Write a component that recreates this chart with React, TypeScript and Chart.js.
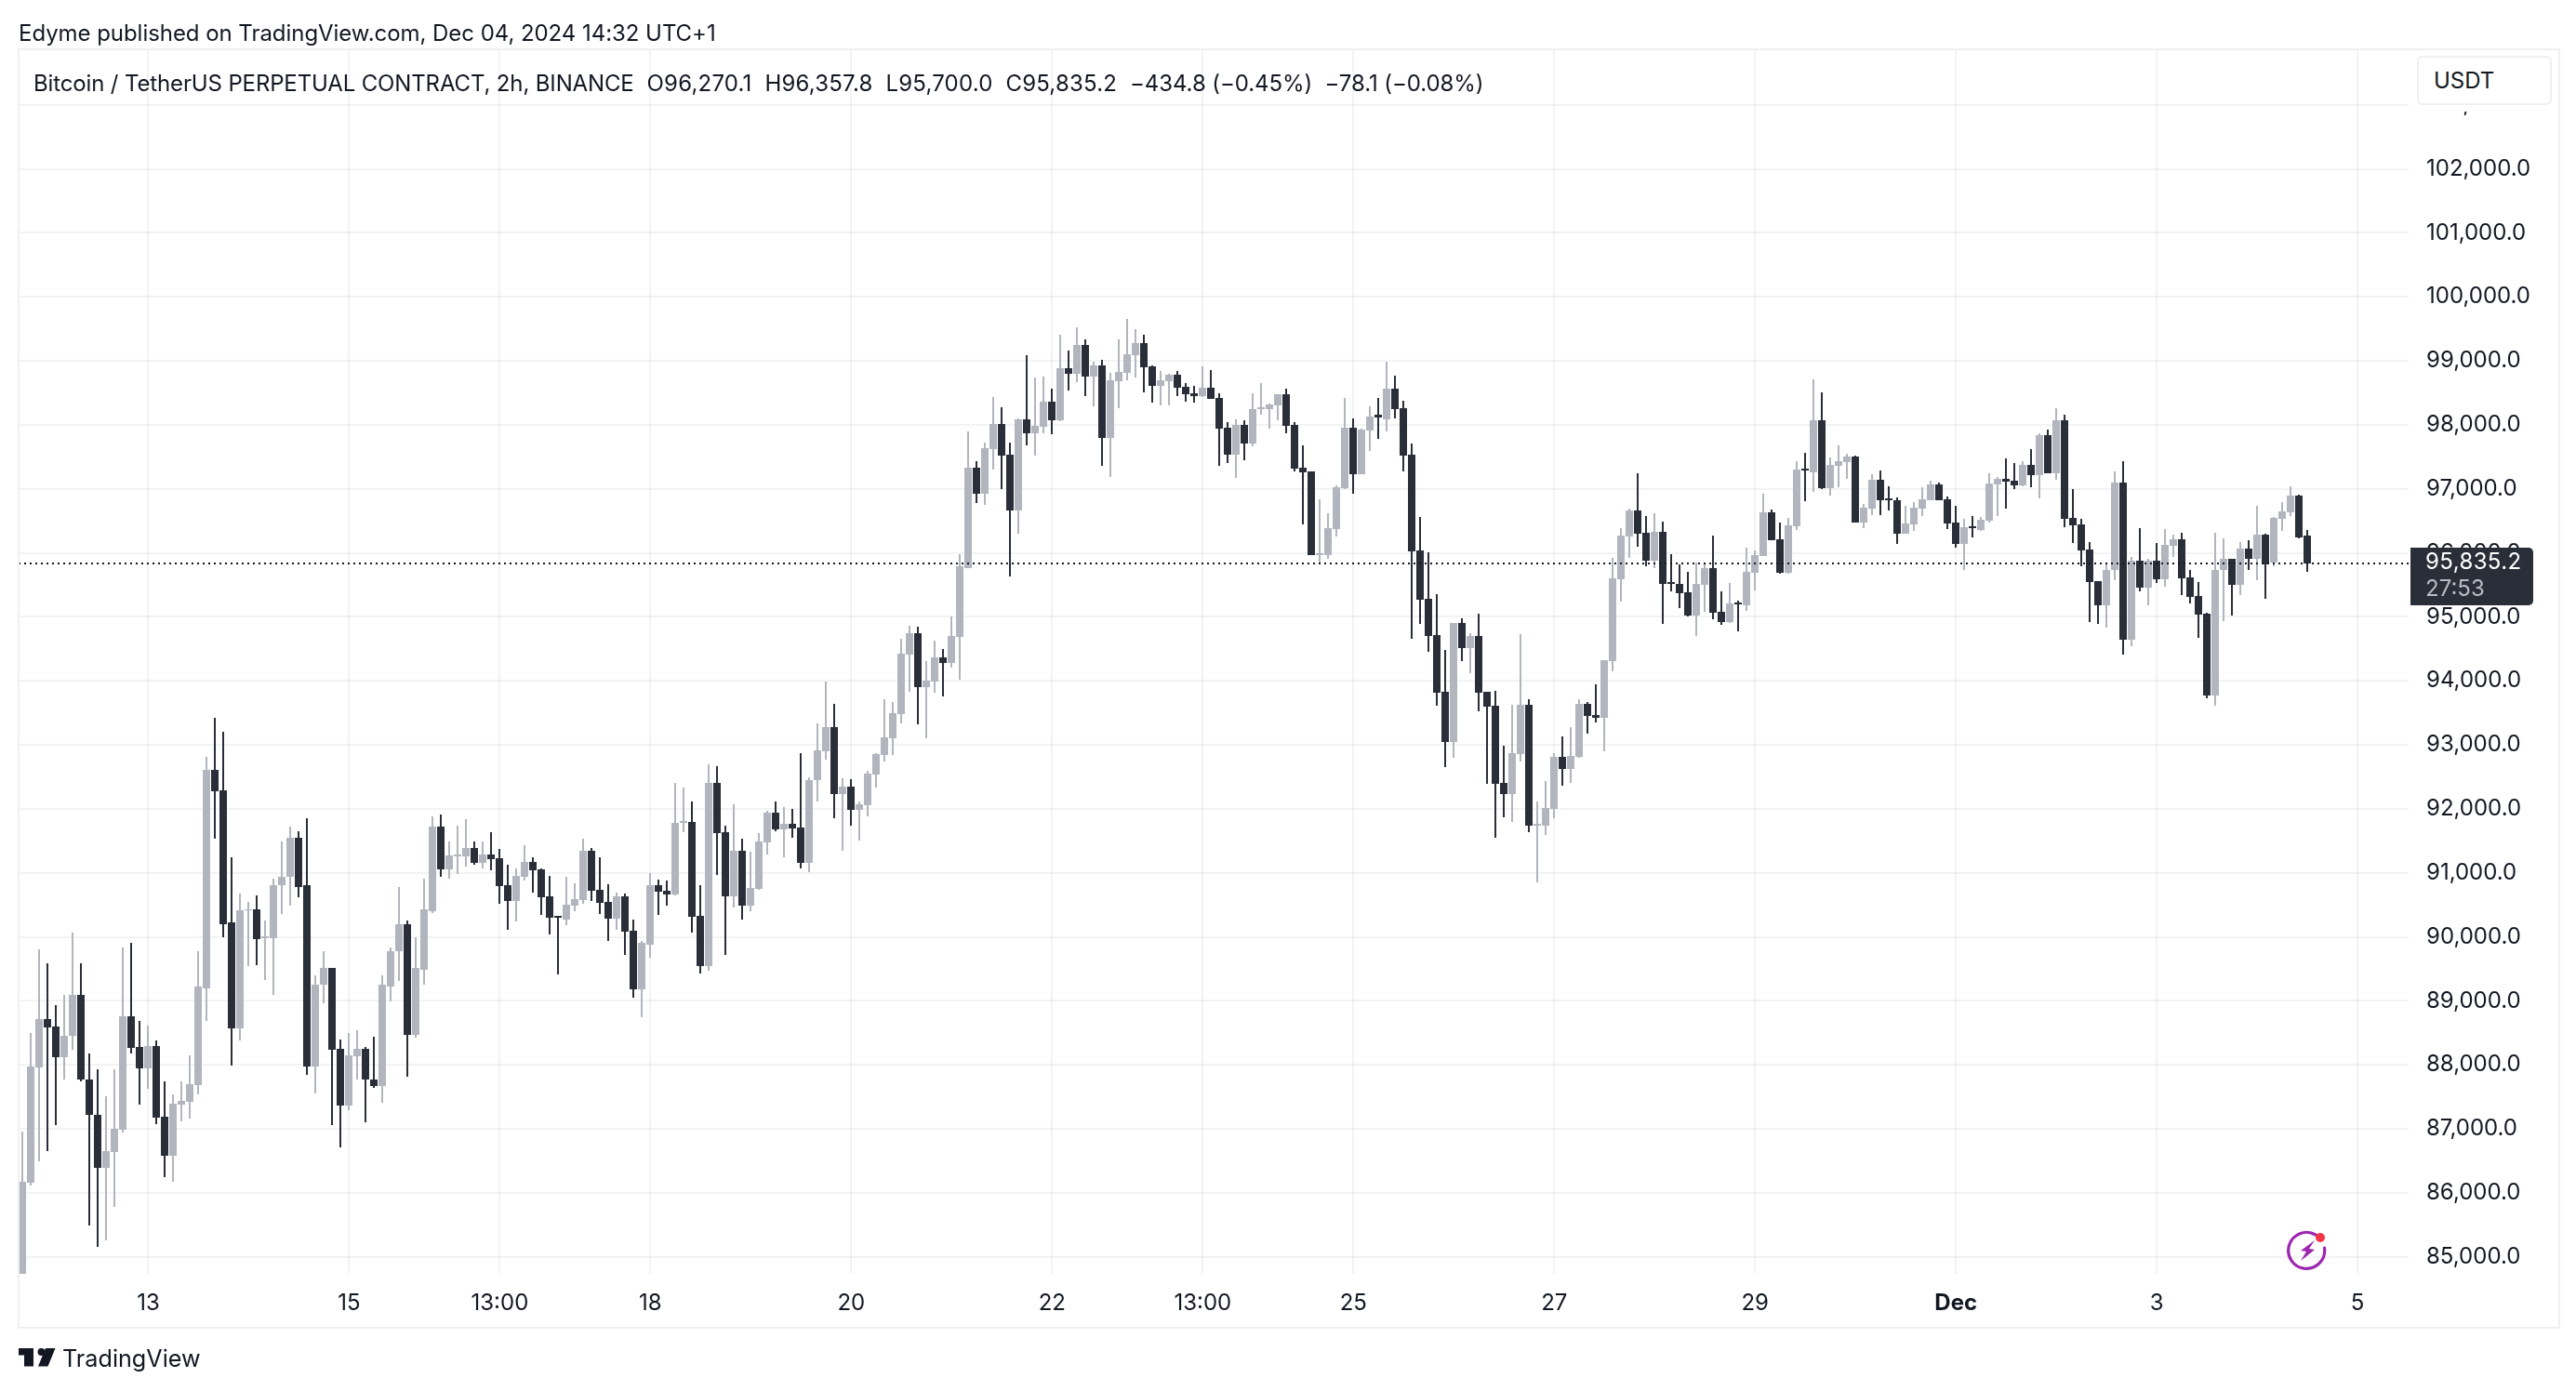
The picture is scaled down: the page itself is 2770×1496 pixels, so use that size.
import React, { useEffect, useRef } from "react";
import { Chart, registerables } from "chart.js";

Chart.register(...registerables);

const opens = [84500,86163,87963,88717,88604,88123,88450,89097,87767,87214,86388,86644,86988,88764,88283,87945,88295,87190,86579,87380,87422,87683,89198,92602,92287,90220,88574,90410,90422,89985,89985,90802,90933,91544,90802,87974,89246,89507,88254,87363,88135,88254,87772,87672,89228,89768,90202,88473,89489,90406,91724,91058,91260,91260,91391,91159,91290,91232,90811,90565,90942,91174,91058,90638,90333,90275,90493,90580,91348,90739,90551,90290,90638,90101,89174,89884,90811,90725,90667,91782,91797,90333,89536,92405,91637,90638,91348,90493,90753,91478,91942,91681,91768,91710,91159,92449,92899,93275,92232,92348,91986,92058,92536,92841,93101,93478,94406,94739,93898,93985,94362,94275,94681,95768,97333,96928,97623,98014,97536,96667,98087,97869,97971,98362,98072,98884,98797,99246,98753,98927,97797,98681,98811,99087,99275,98913,98608,98681,98782,98594,98492,98449,98579,98420,97956,97536,98000,97710,98246,98246,98304,98478,98000,97333,97275,95971,95971,96377,97014,97956,97232,97913,98154,98091,98568,98264,97540,96040,95288,94719,93834,93047,94908,94518,94707,93834,93616,92409,92237,92857,93627,91743,91743,92000,92817,92628,92817,93645,93472,93415,94311,95592,96258,96667,96319,95884,96333,95536,95507,95377,95015,95493,95768,95073,94913,95222,95174,95681,95956,96638,96217,95681,96420,97319,97261,98072,97014,97362,97420,97507,96478,96696,97145,96855,96826,96304,96449,96696,96826,97072,96840,96478,96145,96420,96362,96507,97072,97159,97130,97058,97377,97217,97840,97246,98072,96551,96449,96058,95551,95174,95725,97101,94638,95870,95449,95884,95580,96116,96217,95609,95319,95044,93768,95725,95899,95493,96072,95899,96290,95841,96536,96638,96898,96270.1];
const highs = [86953,88503,89798,89584,88931,89097,90071,89584,88182,87933,87511,87933,89828,89911,88687,88616,88378,87743,87541,87743,88153,89768,92810,93421,93202,91236,90671,90552,90642,90261,90903,91485,91729,91645,91847,89400,89768,89507,88396,88503,88545,88283,88444,89400,89828,90784,90261,90000,90903,91884,91913,91492,91739,91840,91492,91492,91637,91377,91130,91072,91435,91246,91072,90956,90333,90942,90840,91536,91391,91246,90826,90696,90681,90275,89928,91000,90898,90884,92405,92333,92116,90811,92695,92666,91739,92072,91536,91333,91623,91971,92116,92029,92000,92869,92492,93333,93985,93638,92478,92464,92116,92594,92870,93710,93667,94652,94855,94840,94304,94623,94492,95000,95986,97898,97435,97725,98435,98275,97725,98101,99087,98739,98753,98565,99405,99159,99521,99333,98985,99014,98811,99333,99652,99492,99405,98927,98840,98797,98840,98652,98608,98913,98855,98492,98043,98087,98072,98492,98652,98333,98478,98565,98043,97681,97275,96841,96623,97058,98420,98101,97942,98290,98424,98993,98769,98373,97712,96563,96011,95357,94489,94908,94983,94748,95052,93834,93846,92990,93627,94736,93719,92116,92438,92875,93133,93283,93719,93662,93938,94328,95914,96391,96684,97246,96580,96623,96493,95986,95826,95696,95855,95826,96275,95391,95522,95246,96087,96043,96927,96681,96478,96551,97435,97565,98710,98507,97492,97681,97550,97520,96768,97232,97290,97043,96869,96739,96797,97029,97130,97101,96884,96739,96536,96580,96565,97246,97188,97478,97405,97435,97623,97869,97927,98260,98159,97000,96536,96174,95551,95841,97275,97435,95928,96391,95913,96159,96377,96290,96319,95739,95536,95058,96319,96232,95900,96174,96203,96739,96304,96565,96797,97043,96913,96357.8];
const lows = [84300,86121,86495,86656,87054,87767,88230,87737,85491,85159,85260,85783,86947,88182,87380,87630,87066,86246,86175,87119,87161,87541,88687,91527,90000,87992,88384,89537,89560,89329,89097,90362,90493,90612,87844,87553,88955,87060,86709,87291,87772,87101,87642,87410,88996,89317,87808,88426,89246,90367,90932,90903,90985,91101,91130,91072,91043,90522,90116,90246,90884,90696,90348,90043,89406,90188,90406,90522,90565,90362,89928,90116,89710,89044,88739,89667,90348,90493,90650,91637,90072,89420,89464,90971,89710,90464,90275,90406,90740,91290,91652,91246,91550,91072,91014,92116,92768,91855,91348,91739,91507,91884,92333,92739,92841,93333,93826,93319,93101,93811,93753,94203,94014,95760,96783,96754,97304,97000,95623,96304,97681,97522,97869,97855,98058,98536,98666,98449,98290,97362,97188,98261,98695,98739,98507,98348,98304,98304,98449,98362,98348,98440,98400,97362,97406,97174,97449,97666,98159,97942,98072,97869,97275,96449,95971,95841,95913,96261,97000,96928,97225,97594,97787,97902,98103,97275,94661,94891,94460,93616,92656,92800,94311,94121,93530,92392,91553,91869,91800,92743,91640,90853,91594,91858,92363,92409,92800,93168,93352,92903,94150,95236,95925,96101,95783,95768,94884,95391,95131,95010,94696,95073,94957,94870,94905,94768,95087,95406,95950,96195,95667,95675,96362,96811,96956,97000,96898,97029,97159,96470,96391,96594,96594,96667,96145,96295,96348,96580,96820,96820,96377,96087,95739,96246,96348,96478,96580,96696,97000,97043,97029,96855,97240,97145,96406,96159,95783,94913,94884,94826,95565,94406,94536,95391,95174,95522,95464,95928,95333,95203,94667,93725,93609,94928,95015,95333,95725,95565,95275,95783,96348,96580,96232,95700];
const closes = [86175,87974,88717,88586,88123,88456,89097,87767,87214,86388,86650,87000,88764,88265,87945,88295,87178,86579,87392,87440,87701,89216,92602,92269,90202,88574,90410,90430,89970,90010,90814,90944,91544,90784,87974,89257,89507,88236,87363,88153,88254,87767,87672,89246,89780,90202,88473,89507,90422,91724,91058,91275,91290,91391,91159,91290,91217,90797,90565,90956,91174,91043,90623,90304,90304,90507,90594,91348,90725,90536,90290,90638,90087,89174,89899,90811,90710,90667,91782,91811,90319,89536,92405,91623,90638,91348,90493,90768,91492,91942,91681,91768,91695,91159,92449,92913,93275,92232,92348,91986,92073,92551,92855,93116,93493,94420,94739,93898,94000,94362,94275,94695,95783,97333,96928,97638,98014,97522,96667,98087,97869,97985,98362,98072,98884,98797,99246,98753,98927,97797,98695,98826,99101,99275,98898,98608,98695,98782,98579,98478,98449,98579,98405,97942,97536,98000,97710,98246,98275,98318,98478,97985,97319,97261,95971,96000,96391,97029,97956,97232,97927,98130,98120,98568,98252,97522,96029,95270,94707,93817,93047,94908,94518,94707,93817,93599,92392,92237,92875,93627,91743,91772,92019,92817,92628,92829,93645,93455,93415,94328,95604,96276,96666,96304,95884,96333,95507,95507,95362,95015,95507,95768,95058,94913,95203,95193,95696,95971,96638,96203,95681,96435,97304,97290,98072,97014,97377,97435,97507,96478,96710,97145,96826,96826,96304,96464,96710,96840,97072,96826,96464,96145,96406,96391,96522,97087,97159,97116,97058,97377,97217,97840,97246,98072,96536,96435,96043,95536,95174,95739,97101,94638,95870,95449,95884,95580,96130,96217,95594,95304,95029,93768,95739,95899,95493,96072,95899,96290,95826,96551,96652,96898,96246,95835.2];

const timeTickIndex = [15, 39, 57, 75, 99, 123, 141, 159, 183, 207, 231, 255, 279];
const timeTickLabels = ["13", "15", "13:00", "18", "20", "22", "13:00", "25", "27", "29", "Dec", "3", "5"];
const priceTicks = [85000,86000,87000,88000,89000,90000,91000,92000,93000,94000,95000,96000,97000,98000,99000,100000,101000,102000,103000];
const lastPrice = 95835.2;

const UP = "#b2b5be";
const DOWN = "#2a2e39";
const GRID = "rgba(42,46,57,0.06)";
const INK = "#131722";
const FONT = "Inter, 'Liberation Sans', sans-serif";

const snapBars = {
  id: "snapBars",
  afterDatasetsUpdate(chart: any) {
    chart.data.datasets.forEach((_: any, i: number) => {
      const meta = chart.getDatasetMeta(i);
      if (meta.type !== "bar") return;
      meta.data.forEach((el: any) => {
        el.x = Math.round(el.x);
        el.y = Math.round(el.y);
        el.base = Math.round(el.base);
      });
    });
  },
};

const textStyle: React.CSSProperties = {
  position: "absolute",
  fontFamily: FONT,
  color: INK,
  whiteSpace: "pre",
  lineHeight: 1,
};

export default function App() {
  const ref = useRef<HTMLCanvasElement>(null);

  useEffect(() => {
    document.body.style.margin = "0";
    const colors = closes.map((c, i) => (c >= opens[i] ? UP : DOWN));
    const chart = new Chart(ref.current as HTMLCanvasElement, {
      type: "bar",
      data: {
        datasets: [
          {
            type: "line",
            data: [
              { x: -0.5, y: lastPrice },
              { x: 285.1, y: lastPrice },
            ],
            borderColor: INK,
            borderWidth: 2,
            borderDash: [2, 4],
            pointRadius: 0,
            order: 0,
          },
          {
            type: "bar",
            stack: "c",
            data: lows.map((l, i) => ({ x: i, y: [l, highs[i]] })),
            backgroundColor: colors,
            barThickness: 2,
            inflateAmount: 0,
            borderWidth: 0,
            order: 2,
          },
          {
            type: "bar",
            stack: "c",
            data: opens.map((o, i) => ({ x: i, y: [o, closes[i]] })),
            backgroundColor: colors,
            barThickness: 8,
            inflateAmount: 0,
            borderWidth: 0,
            order: 1,
          },
        ] as any,
      },
      options: {
        animation: false,
        responsive: false,
        devicePixelRatio: 1,
        layout: { padding: { left: 20, top: 54, right: 20, bottom: 0 } },
        plugins: { legend: { display: false }, tooltip: { enabled: false } },
        scales: {
          x: {
            type: "linear",
            min: -0.5,
            max: 285.1,
            offset: false,
            grid: { color: GRID, lineWidth: 2, drawTicks: false, offset: false },
            border: { display: false },
            afterBuildTicks: (s: any) => {
              s.ticks = timeTickIndex.map((value) => ({ value }));
            },
            afterFit: (s: any) => {
              s.height = 126;
            },
            ticks: {
              autoSkip: false,
              maxRotation: 0,
              padding: 17,
              color: INK,
              font: (ctx: any) => ({
                family: FONT,
                size: 24,
                weight: ctx.tick && ctx.tick.label === "Dec" ? "bold" : "normal",
              }),
              callback: (v: any) => timeTickLabels[timeTickIndex.indexOf(v)],
            },
          },
          y: {
            position: "right",
            stacked: false,
            min: 84734,
            max: 103853,
            grid: { color: GRID, lineWidth: 2, drawTicks: false },
            border: { display: false },
            afterBuildTicks: (s: any) => {
              s.ticks = priceTicks.map((value) => ({ value }));
            },
            afterFit: (s: any) => {
              s.width = 160;
            },
            ticks: {
              autoSkip: false,
              padding: 19,
              color: INK,
              font: { family: FONT, size: 24 },
              callback: (v: any) =>
                Number(v).toLocaleString("en-US", { minimumFractionDigits: 1 }),
            },
          },
        },
      } as any,
      plugins: [snapBars],
    });
    return () => chart.destroy();
  }, []);

  return (
    <div style={{ position: "relative", width: 2770, height: 1496, overflow: "hidden", background: "#fff" }}>
      <canvas ref={ref} width={2770} height={1496} style={{ display: "block", width: 2770, height: 1496 }} />
      <div style={{ position: "absolute", left: 19, top: 52, width: 2730, height: 1373, border: "2px solid #f0f0f4" }} />
      <div style={{ ...textStyle, left: 20, top: 24, fontSize: 24, letterSpacing: -0.05 }}>
        Edyme published on TradingView.com, Dec 04, 2024 14:32 UTC+1
      </div>
      <div style={{ ...textStyle, left: 36, top: 78, fontSize: 24 }}>
        <span style={{ letterSpacing: -0.14 }}>Bitcoin / TetherUS PERPETUAL CONTRACT, 2h, BINANCE</span>
        <span style={{ letterSpacing: 0.2 }}>{"  O96,270.1  H96,357.8  L95,700.0  C95,835.2  "}</span>
        <span style={{ letterSpacing: -0.08 }}>{"−434.8 (−0.45%)  −78.1 (−0.08%)"}</span>
      </div>
      <div style={{ position: "absolute", left: 2598, top: 56, width: 150, height: 64, background: "#fff" }} />
      <div
        style={{
          ...textStyle,
          left: 2599,
          top: 60,
          width: 145,
          height: 53,
          boxSizing: "border-box",
          border: "2px solid #f0f0f4",
          borderRadius: 6,
          background: "#fff",
          fontSize: 24,
          lineHeight: "50px",
          paddingLeft: 16,
        }}
      >
        USDT
      </div>
      <div
        style={{
          position: "absolute",
          left: 2592,
          top: 589,
          width: 132,
          height: 62,
          background: DOWN,
          borderRadius: "0 5px 5px 0",
        }}
      />
      <div style={{ ...textStyle, left: 2608, top: 592, fontSize: 24, letterSpacing: 0.4, color: "#fff" }}>95,835.2</div>
      <div style={{ ...textStyle, left: 2608, top: 621, fontSize: 24, color: "#b9bbc2" }}>27:53</div>
      <svg style={{ position: "absolute", left: 2450, top: 1315 }} width={60} height={60} viewBox="0 0 60 60">
        <path
          d="M 40 13 A 19.5 19.5 0 1 0 49.5 27"
          fill="none"
          stroke="#9c27b0"
          strokeWidth={3.2}
          strokeLinecap="round"
        />
        <path d="M 39 19 L 24 30 L 30 31 L 24 41 L 39 29 L 33 28 Z" fill="#9c27b0" />
        <circle cx={45} cy={16} r={5} fill="#f23645" />
      </svg>
      <svg style={{ position: "absolute", left: 20, top: 1450 }} width={40} height={20} viewBox="0 0 40 20">
        <path d="M0 0 H16 V19.5 H6 V7.5 H0 Z" fill={INK} />
        <circle cx={24.5} cy={4} r={4} fill={INK} />
        <path d="M29 0 H39.5 L31.5 19.5 H21 Z" fill={INK} />
      </svg>
      <div style={{ ...textStyle, left: 67, top: 1449, fontSize: 25.2 }}>TradingView</div>
    </div>
  );
}
